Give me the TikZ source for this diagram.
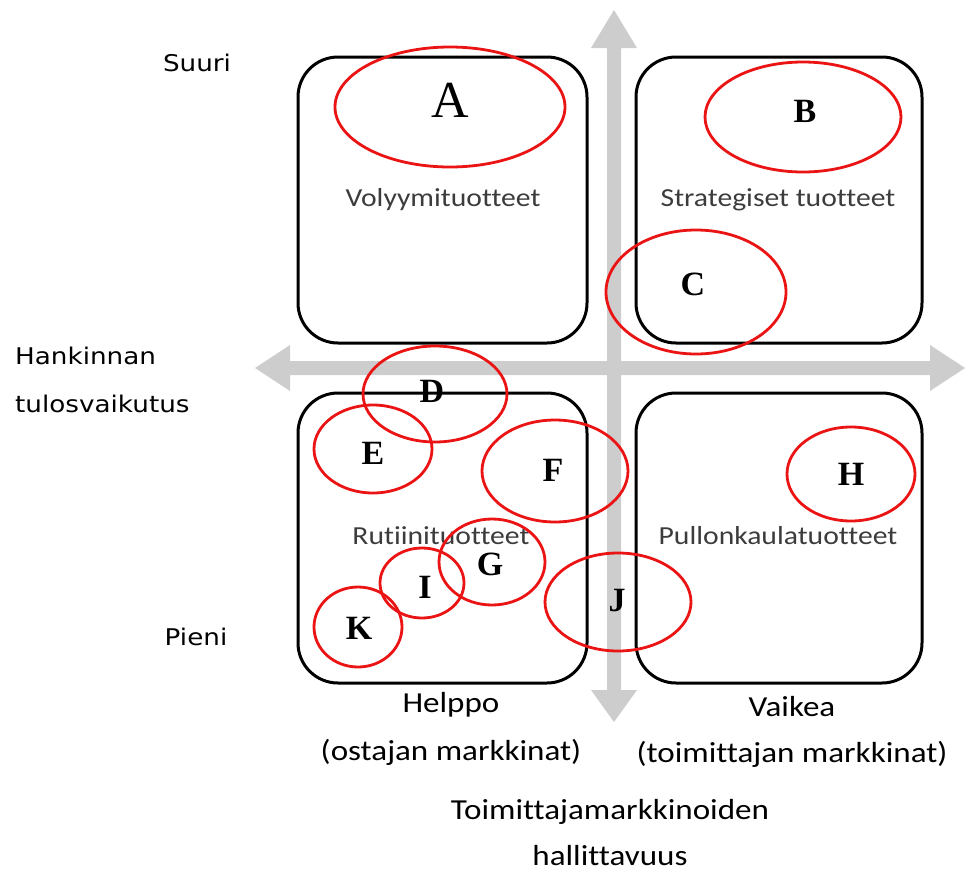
\documentclass[tikz,border=0pt]{standalone}
\usepackage{graphicx}
\usepackage{fontspec}
\setmainfont{Liberation Serif}
\newfontfamily\calfont[Ligatures=NoCommon]{Carlito}
\newfontfamily\verfont{DejaVu Sans}
\newcommand{\wide}[1]{\scalebox{1.14}[1]{#1}}
\definecolor{axisgray}{RGB}{205,205,205}
\definecolor{labgray}{RGB}{60,60,60}
\definecolor{ringred}{RGB}{235,20,20}
\begin{document}
\begin{tikzpicture}[x=1pt,y=-1pt,
  quad/.style={draw=black,line width=3pt,rounded corners=40pt},
  ring/.style={draw=ringred,line width=2.8pt},
  letter/.style={font=\fontsize{34}{36}\selectfont\bfseries,inner sep=0pt},
  boxlabel/.style={font=\calfont\fontsize{26}{28}\selectfont,text=labgray,inner sep=0pt},
  axlabel/.style={font=\calfont\fontsize{29}{34}\selectfont,align=center,inner sep=0pt},
  sidelabel/.style={font=\verfont\fontsize{23}{28}\selectfont,inner sep=0pt}]
\useasboundingbox (0,0) rectangle (967,873);
% gray axes
\fill[axisgray] (255,368) -- (290,345) -- (290,361) -- (607,361) -- (607,48) -- (591,48) -- (614,10) -- (637,48) -- (621,48)
  -- (621,361) -- (930,361) -- (930,345) -- (965,368) -- (930,391) -- (930,375) -- (621,375) -- (621,690) -- (637,690)
  -- (614,722) -- (591,690) -- (607,690) -- (607,375) -- (290,375) -- (290,391) -- cycle;
% boxes
\draw[quad] (298,57) rectangle (587,343);
\draw[quad] (636,57) rectangle (922,343);
\draw[quad] (298,393) rectangle (587,683);
\draw[quad] (636,393) rectangle (922,683);
% box labels
\node[boxlabel] (vol) at (443,200) {\wide{Volyymituotteet}};
\node[boxlabel] (str) at (778,200) {\wide{Strategiset tuotteet}};
\node[boxlabel] (rut) at (441,536) {\wide{Rutiinituotteet}};
\node[boxlabel] (pul) at (778,536) {\wide{Pullonkaulatuotteet}};
% rings
\draw[ring] (450,107) ellipse [x radius=115, y radius=60];
\draw[ring] (803,117) ellipse [x radius=98, y radius=55];
\draw[ring] (696,292) ellipse [x radius=90, y radius=62];
\draw[ring] (435,394) ellipse [x radius=72, y radius=48];
\draw[ring] (373,449) ellipse [x radius=59, y radius=44];
\draw[ring] (555,471) ellipse [x radius=73, y radius=51];
\draw[ring] (851,474) ellipse [x radius=64, y radius=47];
\draw[ring] (492,562) ellipse [x radius=53, y radius=43];
\draw[ring] (422,583) ellipse [x radius=42, y radius=35];
\draw[ring] (358,627) ellipse [x radius=44, y radius=40];
\draw[ring] (618,602) ellipse [x radius=73, y radius=49];
% letters
\node[inner sep=0pt,font=\fontsize{52}{54}\selectfont] (A) at (450,100) {A};
\node[letter] (B) at (805,111) {B};
\node[letter] (C) at (693,284) {C};
\node[letter] (D) at (432,391) {D};
\node[letter] (E) at (373,453) {E};
\node[letter] (F) at (553,470) {F};
\node[letter] (H) at (851,474) {H};
\node[letter] (G) at (490,564) {G};
\node[letter] (I) at (425,587) {I};
\node[letter] (K) at (359,628) {K};
\node[letter] (J) at (617,601) {J};
% side labels
\node[sidelabel] (suuri) at (197,63) {\wide{Suuri}};
\node[sidelabel,anchor=west] (hank) at (15,356) {\wide{Hankinnan}};
\node[sidelabel,anchor=west] (tulos) at (15,404) {\wide{tulosvaikutus}};
\node[sidelabel] (pieni) at (196,637) {\wide{Pieni}};
% bottom labels
\node[axlabel] (helppo) at (451,705) {\wide{Helppo}};
\node[axlabel] (ostaja) at (451,752) {\wide{(ostajan markkinat)}};
\node[axlabel] (vaikea) at (792,707) {\wide{Vaikea}};
\node[axlabel] (toimit) at (792,754) {\wide{(toimittajan markkinat)}};
\node[axlabel] (tmk) at (610,812) {\wide{Toimittajamarkkinoiden}};
\node[axlabel] (hall) at (610,856) {\wide{hallittavuus}};
\end{tikzpicture}
\end{document}
